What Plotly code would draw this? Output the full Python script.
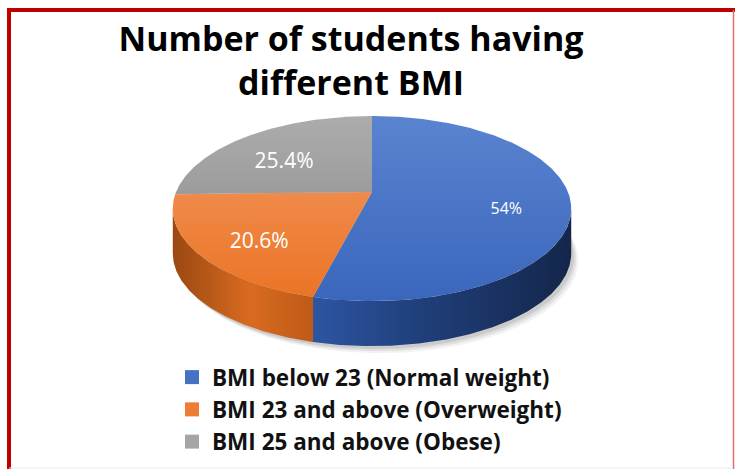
import numpy as np
import plotly.graph_objects as go

# ---------------- data ----------------
categories = ["BMI below 23 (Normal weight)",
              "BMI 23 and above (Overweight)",
              "BMI 25 and above (Obese)"]
values = [54.0, 20.6, 25.4]
value_labels = ["54%", "20.6%", "25.4%"]
title_text = "Number of students having<br>different BMI"

# ---------------- style ----------------
top_gradients = [
    [[0, "#5A84D0"], [1, "#3A66BC"]],
    [[0, "#F08A4A"], [1, "#EB7425"]],
    [[0, "#ACACAC"], [1, "#9C9C9C"]],
]
side_gradients = [
    [[0, "#2D55A2"], [0.4, "#20407C"], [1, "#14264A"]],
    [[0, "#9A4812"], [0.55, "#D96B20"], [1, "#BE5A17"]],
    [[0, "#8A8A8A"], [1, "#6E6E6E"]],
]
legend_colors = ["#4472C4", "#ED7D31", "#A5A5A5"]
label_sizes = [16, 21, 21]

W, H = 735, 469
CX, CY = 372, 192          # projected pie centre (pixels)
SX, SY, K = 196, 89.6, 0.179  # half-width, half-height, perspective
DEPTH = 45
FONT = "Open Sans"


def proj(theta_deg, r=1.0):
    th = np.radians(theta_deg)
    X = r * np.sin(th)
    Y = r * np.cos(th)
    den = 1 + K * Y
    return CX + SX * X / den, CY - SY * Y / den


fig = go.Figure()

total = sum(values)
angles = np.concatenate([[0], np.cumsum(values) / total * 360.0])

# soft shadow under the pie
full = np.linspace(0, 360, 361)
bx, by = proj(full)
for off, alpha in [(7, 0.05), (5, 0.07), (3, 0.09)]:
    fig.add_trace(go.Scatter(x=bx + off, y=by + DEPTH + off, mode="lines",
                             fill="toself", fillcolor=f"rgba(0,0,0,{alpha})",
                             line=dict(width=0), hoverinfo="skip", showlegend=False))

# visible side range (front half, between silhouette points)
a_lo = np.degrees(np.arccos(-K))
a_hi = 360 - a_lo

for i in range(len(values)):
    lo = max(angles[i], a_lo)
    hi = min(angles[i + 1], a_hi)
    if hi <= lo:
        continue
    t = np.linspace(lo, hi, max(int((hi - lo) * 2), 2))
    xt, yt = proj(t)
    xs = np.concatenate([xt, xt[::-1]])
    ys = np.concatenate([yt, yt[::-1] + DEPTH])
    fig.add_trace(go.Scatter(
        x=xs, y=ys, mode="lines", fill="toself",
        fillgradient=dict(type="horizontal", colorscale=side_gradients[i],
                          start=float(xs.min()), stop=float(xs.max())),
        line=dict(width=0), hoverinfo="skip", showlegend=False))

# top faces
for i in range(len(values)):
    t = np.linspace(angles[i], angles[i + 1], max(int((angles[i + 1] - angles[i]) * 2), 2))
    xt, yt = proj(t)
    xs = np.concatenate([[CX], xt, [CX]])
    ys = np.concatenate([[CY], yt, [CY]])
    fig.add_trace(go.Scatter(
        x=xs, y=ys, mode="lines", fill="toself",
        fillgradient=dict(type="vertical", colorscale=top_gradients[i],
                          start=float(ys.min()), stop=float(ys.max())),
        line=dict(width=0), hoverinfo="skip", showlegend=False))

# data labels
for i in range(len(values)):
    mid = (angles[i] + angles[i + 1]) / 2
    lx, ly = proj(mid, 0.68)
    fig.add_trace(go.Scatter(
        x=[lx], y=[ly + 10], mode="text", text=[value_labels[i]],
        textfont=dict(family=FONT, size=label_sizes[i], color="white"),
        hoverinfo="skip", showlegend=False))

# legend entries
for i, c in enumerate(categories):
    fig.add_trace(go.Scatter(
        x=[None], y=[None], mode="markers", name=c,
        marker=dict(symbol="square", size=14, color=legend_colors[i]),
        showlegend=True))

fig.update_layout(
    width=W, height=H,
    margin=dict(l=0, r=0, t=0, b=0),
    paper_bgcolor="white", plot_bgcolor="white",
    xaxis=dict(range=[0, W], visible=False, fixedrange=True),
    yaxis=dict(range=[H, 0], visible=False, fixedrange=True),
    title=dict(text=title_text, x=351 / W, xanchor="center",
               y=1 - 51 / H, yanchor="top", yref="container",
               font=dict(family=FONT, size=34, color="black", weight="bold")),
    showlegend=True,
    legend=dict(x=172 / W, xanchor="left", y=1 - 356 / H, yanchor="top",
                font=dict(family=FONT, size=22.5, color="#111111", weight="bold"),
                bgcolor="rgba(0,0,0,0)", tracegroupgap=0, itemclick=False),
    shapes=[
        dict(type="line", xref="x", yref="y", x0=9, x1=W, y0=10, y1=10,
             line=dict(color="#C00000", width=4)),
        dict(type="line", xref="x", yref="y", x0=9, x1=9, y0=8, y1=H,
             line=dict(color="#C00000", width=4)),
        dict(type="line", xref="x", yref="y", x0=733.5, x1=733.5, y0=10, y1=H,
             line=dict(color="#E07070", width=1.5)),
        dict(type="line", xref="x", yref="y", x0=9, x1=733, y0=468, y1=468,
             line=dict(color="#EAEAEA", width=1)),
    ],
)

fig.write_html("out.html")
